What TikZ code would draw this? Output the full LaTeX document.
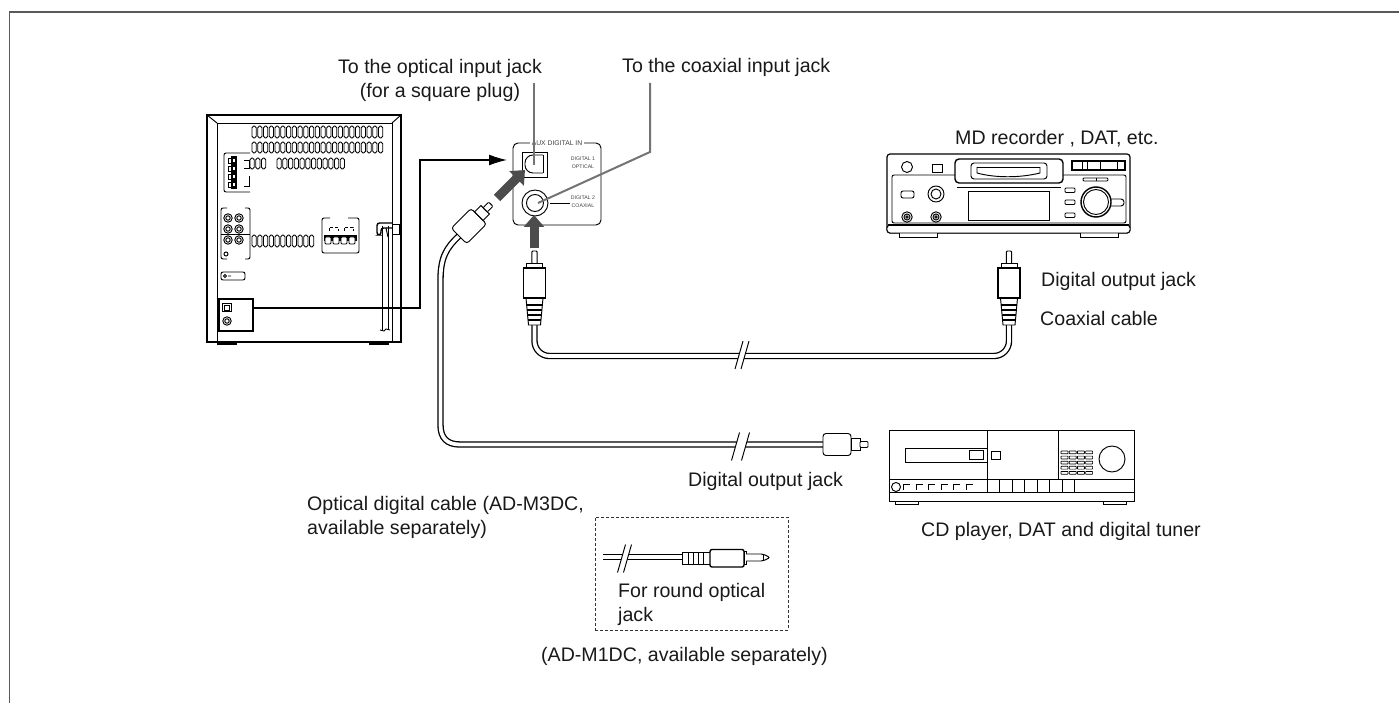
\documentclass[tikz,border=0pt]{standalone}
\usepackage{fontspec}
\setmainfont{Liberation Sans}
\usetikzlibrary{arrows.meta,positioning,calc}

\tikzset{
  pics/optplug/.style={code={
    \draw[thin line, fill=white, rounded corners=3pt] (0,-11) rectangle (28,11);
    \draw[thin line, fill=white] (28,-6) rectangle (37,6);
    \draw[thin line, fill=white, rounded corners=1pt] (37,-3) rectangle (45,3);
  }},
  pics/coaxplug/.style={code={
    \draw[thin line, fill=white] (-6,0) -- (-8.5,-27) -- (8.5,-27) -- (6,0) -- cycle;
    \foreach \y/\w in {-5/6.4,-10/6.9,-15/7.4,-20/7.9} {\draw[rib] (-\w,\y) -- (\w,\y);}
    \draw[thin line, fill=white, rounded corners=1pt] (-2.6,-62) -- (-2.6,-74) -- (2.6,-74) -- (2.6,-62);
    \draw[thin line, fill=white] (-8,-57) -- (-8,-62) -- (8,-62) -- (8,-57);
    \draw[thick line, fill=white] (-11,-27) rectangle (11,-57);
  }},
  pics/cablebreak/.style={code={
    \fill[white] (-#1-7,14) -- (-#1+1,-14) -- (#1+7,-14) -- (#1-1,14) -- cycle;
    \draw[thin line] (-#1-7,14) -- (-#1+1,-14);
    \draw[thin line] (#1-1,14) -- (#1+7,-14);
  }}
}

\begin{document}
\begin{tikzpicture}[
  x=1pt, y=-1pt,
  thin line/.style={draw=black, line width=0.95pt},
  thick line/.style={draw=black, line width=1.4pt},
  rib/.style={draw=black, line width=1.2pt},
  vent/.style={draw=black, line width=0.85pt, rounded corners=1.8pt},
  part/.style={draw=black, line width=0.95pt, inner sep=0pt, outer sep=0pt},
  lbl/.style={font=\fontsize{19.6}{23.8}\selectfont, inner sep=0pt, align=left, text=black!90},
  tiny/.style={font=\fontsize{5.2}{8}\selectfont, inner sep=0pt, align=center, text=black!75},
  cable/.style={draw=black, line width=1.3pt, double=white, double distance=3.8pt},
  signal/.style={draw=black, line width=1.3pt, -{Latex[length=18pt, width=11pt]}},
  leader/.style={draw=black!55, line width=2pt},
  fat/.style={draw=black!70, line width=9pt, -{Triangle[length=12pt, width=20pt]}}
]
\useasboundingbox (0,0) rectangle (1399,703);
\draw[draw=black!65, line width=1.6pt] (9.5,703) -- (9.5,12) -- (1399,12);

% receiver, rear view
\node[part, line width=2pt, minimum width=194pt, minimum height=227pt, anchor=north west] (unit) at (207,115) {};
\draw[thin line] (217,342) -- (217,123) -- (392,123) -- (392,342);
\draw[thin line] (207,115) -- (217,123) (401,115) -- (392,123);
\foreach \x in {218,370} {\draw[thick line, fill=white] (\x,342) rectangle ++(18,2);}
\foreach \i in {0,...,22} {
  \draw[vent] ({252+\i*5.75},126) rectangle ++(4.2,12);
  \draw[vent] ({252+\i*5.75},142) rectangle ++(4.2,11);
}
\foreach \i in {0,1,2} {\draw[vent] ({250+\i*5.75},158) rectangle ++(4.2,11);}
\foreach \i in {0,...,11} {\draw[vent] ({277+\i*5.75},158) rectangle ++(4.2,11);}
\foreach \i in {0,...,10} {\draw[vent] ({252+\i*5.75},235) rectangle ++(4.2,12);}
\draw[thin line, rounded corners=2pt] (250,153) -- (224,153) -- (224,192) -- (250,192);
\draw[thin line] (244,160) -- (249,160) -- (249,168) -- (244,168);
\draw[thin line] (249,176) -- (249,186) -- (244,186);
\fill[black] (231,156) rectangle (237,189);
\foreach \y in {158,166,174,182} {
  \draw[thin line, fill=white] (232,\y) rectangle ++(3,4);
  \draw[thin line] (228,\y) rectangle ++(3,5);
}
\draw[thin line, rounded corners=2pt] (227,208) -- (221,208) -- (221,259) -- (227,259);
\draw[thin line, rounded corners=2pt] (245,208) -- (250,208) -- (250,259) -- (245,259);
\draw[thin line] (221,234) -- (250,234);
\foreach \x in {228,239} {\foreach \y in {218,229,240} {
  \draw[thin line] (\x,\y) circle (4.2pt);
  \draw[thin line] (\x,\y) circle (2.2pt);
}}
\draw[thin line] (226,254) circle (2pt);
\draw[thin line, rounded corners=2pt] (221,272) rectangle (245,280);
\draw[thin line] (225,276) circle (1.5pt) (228,276) -- (231,276);
\draw[thin line, rounded corners=2pt] (330,218) -- (322,218) -- (322,253) -- (359,253) -- (359,218) -- (348,218);
\foreach \x in {329,344} {\draw[thin line, densely dashed] (\x,231) -- (\x,227) -- ++(9,0) -- ++(0,4);}
\fill[black] (324,235) rectangle (357,241);
\foreach \x in {325,333,341,349} {\draw[thin line, fill=white, rounded corners=1pt] (\x,237) rectangle ++(6,7);}
\draw[thin line] (382,330) -- (382,226) (388,226) -- (388,330);
\draw[thin line] (380,330) -- (384,331) -- (386,329) -- (390,330);
\draw[thin line, fill=white] (392,224) rectangle (399,234);
\draw[thick line, rounded corners=2.5pt] (392,223) -- (377,223) -- (377,235) -- (381,235) -- (381,228) -- (392,228);
\draw[thin line] (386,228) -- (388,237);

\node[part, line width=1.2pt, minimum width=34pt, minimum height=32pt, anchor=north west] (digbox) at (219,299) {};
\draw[thin line, fill=white] (222,303) rectangle (231,311);
\draw[thin line] (224,305) rectangle (229,310);
\draw[thin line] (227,321) circle (4.2pt) (227,321) circle (2.2pt);

% panel with the two inputs
\node[part, rounded corners=5pt, minimum width=88pt, minimum height=82pt, anchor=north west] (panel) at (513,143) {};
\node[font=\fontsize{6.8}{8}\selectfont, fill=white, inner sep=1.5pt, text=black!75] (auxlabel) at (557,143) {AUX DIGITAL IN};
\node[part, minimum width=25pt, minimum height=25pt] (optjack) at (534.5,164.5) {};
\draw[thin line, rounded corners=8pt] (543,155) -- (525,155) -- (525,173) -- (543,173);
\draw[thin line] (543,155) -- (543,173);
\node[part, circle, minimum size=26pt] (coaxjack) at (535,203) {};
\draw[thin line] (535,203) circle (8.5pt);
\node[tiny] (digone) at (583,163) {DIGITAL 1\\OPTICAL};
\node[tiny] (digtwo) at (583,202) {DIGITAL 2\\COAXIAL};
\draw[thin line] (coaxjack.east) ++(2,0) -- (570,203);

\coordinate (sigbend) at (420,308);
\coordinate (sigtop) at (420,160);
\coordinate (panelin) at (507,160);
\draw[signal] (digbox.east |- sigbend) -- (sigbend) -- (sigtop) -- (panelin);

% labels above the panel
\node[lbl, align=center, anchor=north] (optlabel) at (440,59) {To the optical input jack\\(for a square plug)};
\node[lbl, anchor=base west] (coaxlabel) at (622,73) {To the coaxial input jack};
\coordinate (opttop) at (533.5,83);
\coordinate (opttip) at (533.5,165);
\coordinate (coaxtop) at (650,83);
\coordinate (coaxbend) at (650,152);
\coordinate (coaxtip) at (538,203);
\draw[leader] (opttop) -- (opttip);
\draw[leader] (coaxtop) -- (coaxbend) -- (coaxtip);

% coaxial cable
\coordinate (coaxleft) at (534.5,325);
\coordinate (coaxright) at (1009,325);
\draw[cable, rounded corners=15pt] (coaxleft) -- (534.5,356) -- (1009,356) -- (coaxright);
\pic at (742,355) {cablebreak=0};
\pic at (coaxleft) {coaxplug};
\pic at (coaxright) {coaxplug};

% optical cable
\coordinate (optend) at (459,236);
\coordinate (optcd) at (823,444.5);
\draw[cable] (optend) .. controls (446,248) and (440.5,258) .. (440.5,280) -- (440.5,425) .. controls (440.5,438) and (447,444.5) .. (460,444.5) -- (optcd);
\pic at (740.5,446.5) {cablebreak=2};
\pic[rotate=45] at (optend) {optplug};
\pic at (optcd) {optplug};

% arrows into the jacks
\coordinate (fatonestart) at (497,198);
\coordinate (fatoneend) at (525,170);
\coordinate (fattwostart) at (534,248);
\coordinate (fattwoend) at (534,215);
\draw[fat] (fatonestart) -- (fatoneend);
\draw[fat] (fattwostart) -- (fattwoend);

% MD recorder
\node[part, line width=1.2pt, rounded corners=3pt, minimum width=243pt, minimum height=79pt, anchor=north west] (mdrec) at (887,154) {};
\foreach \x in {899,1080} {\draw[thin line, fill=white] (\x,231) rectangle ++(38,6);}
\draw[thin line, rounded corners=3pt, fill=white] (887,225) rectangle (1130,233);
\draw[thick line] (888,225) -- (1129,225);
\draw[thin line, rounded corners=2pt] (955,175) -- (892,175) -- (892,223) -- (1126,223) -- (1126,175) -- (1063,175);
\draw[thick line, rounded corners=4pt, fill=white] (955,159) rectangle (1063,183);
\draw[thin line] (957,187) -- (1061,187);
\draw[thin line, rounded corners=3pt] (971,163) rectangle (1047,179);
\draw[thin line] (977,167) -- (977,173) .. controls (995,178) and (1020,178) .. (1040,173) -- (1040,167);
\draw[thin line] (977,167) -- (1040,167);
\draw[thin line] (907,167) circle (5.5pt);
\draw[thin line] (932,164) rectangle (942,172);
\draw[thick line] (1072,161) rectangle (1125,170);
\foreach \x in {1082,1087,1100,1117} {\draw[thin line] (\x,161) -- (\x,170);}
\draw[thin line, rounded corners=1pt] (1083,178) rectangle (1108,181);
\draw[thin line] (1096,178) -- (1096,181);
\draw[thin line] (968,191) rectangle (1049,220);
\draw[thin line, rounded corners=2pt] (901,191) rectangle (914,198);
\draw[thin line] (936,194) circle (8pt) (936,194) circle (5pt);
\foreach \x in {907,936} {\draw[thin line] (\x,217) circle (5.2pt) (\x,217) circle (3pt) (\x,217) circle (1.3pt);}
\foreach \y in {188,200,213} {\draw[thin line, rounded corners=1pt] (1065,\y) rectangle ++(10,4.5);}
\draw[thin line, rounded corners=3pt] (1108,199) rectangle (1124,206);
\draw[thick line, fill=white] (1096,202) circle (15pt);
\draw[thin line] (1096,202) circle (12.5pt);

% CD player
\node[part, line width=1pt, minimum width=245pt, minimum height=71pt, anchor=north west] (cdplayer) at (889,430) {};
\foreach \x in {895,1103} {\draw[thin line, fill=white] (\x,501) rectangle ++(23,3);}
\draw[thin line] (889,479) -- (1134,479) (889,492) -- (1134,492);
\draw[thin line] (987,430) -- (987,492) (1058,430) -- (1058,479);
\draw[thin line] (905,448) rectangle (987,462);
\draw[thin line] (969,450) rectangle (983,459);
\draw[thin line] (991,451) rectangle (1000,459);
\foreach \r in {0,...,4} {\foreach \c in {0,...,3} {
  \draw[line width=0.7pt, draw=black, rounded corners=0.5pt] ({1061+\c*8.2},{451+\r*5.1}) rectangle ++(7,2.8);
}}
\draw[thin line] (1112,459) circle (13pt);
\draw[thin line] (896,487) circle (4.5pt);
\foreach \x in {903,916,928,941,953,966} {\draw[thin line] (\x,490) -- (\x,484) -- ++(7,0);}
\foreach \i in {0,...,7} {\draw[thin line] ({987+\i*12.5},479) -- ({987+\i*12.5},492);}

% round plug inset
\node[part, densely dashed, draw=black!80, minimum width=193pt, minimum height=113pt, anchor=north west] (inset) at (595,517) {};
\coordinate (roundstart) at (603,557);
\coordinate (roundplug) at (682,557);
\draw[cable] (roundstart) -- (roundplug);
\pic at (624.5,558.5) {cablebreak=0};
\draw[thin line, fill=white] (682,552) rectangle (710,564);
\foreach \x in {688,693,698,703} {\draw[thin line] (\x,552) -- (\x,564);}
\draw[thick line, fill=white, rounded corners=2pt] (710,549.5) rectangle (744,567);
\draw[thin line, fill=white] (744,551.5) rectangle (746,564);
\draw[thin line, fill=white, rounded corners=2pt] (746,554) -- (763,554) -- (770,557.5) -- (763,561) -- (746,561);
\draw[thin line] (763,554) -- (763,561);

% device labels
\node[lbl, anchor=base west] (mdlabel) at (955,145) {MD recorder , DAT, etc.};
\node[lbl, anchor=base west] (coaxout) at (1041,287) {Digital output jack};
\node[lbl, anchor=base west] (coaxname) at (1040,325) {Coaxial cable};
\node[lbl, anchor=base west] (optout) at (688,486) {Digital output jack};
\node[lbl, anchor=north west] (optname) at (307,496) {Optical digital cable (AD-M3DC,\\available separately)};
\node[lbl, anchor=base west] (cdlabel) at (921,536) {CD player, DAT and digital tuner};
\node[lbl, anchor=north west] (roundlabel) at (618,583) {For round optical\\jack};
\node[lbl, anchor=base west] (roundname) at (541,661) {(AD-M1DC, available separately)};
\end{tikzpicture}
\end{document}
